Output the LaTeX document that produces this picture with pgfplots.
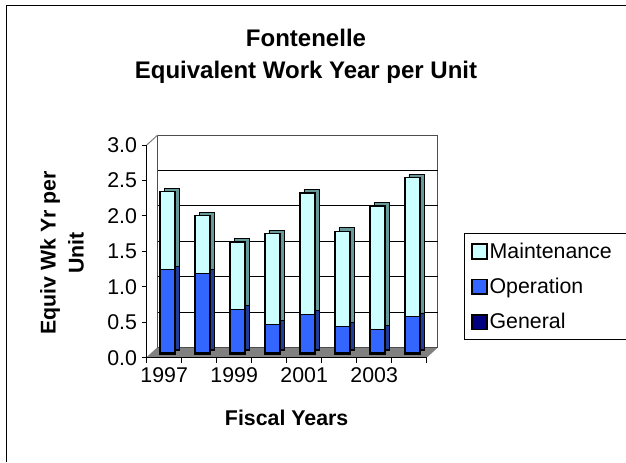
\documentclass[border=0pt]{standalone}
\usepackage{fontspec}
\setmainfont{Liberation Sans}
\usepackage{pgfplots}
\usepackage{pgfplotstable}
\pgfplotsset{compat=1.18}

\definecolor{maint}{HTML}{CCFFFF}
\definecolor{oper}{HTML}{3366FF}
\definecolor{gen}{HTML}{000080}
\definecolor{maintdark}{HTML}{669999}
\definecolor{operdark}{HTML}{1F3D99}
\definecolor{gendark}{HTML}{00004D}
\definecolor{floorgray}{HTML}{808080}

% stacked values per fiscal year (bars at 0.5, 1.5, ...)
\pgfplotstableread{
x    gen   op    maint
0.5  0.02  1.17  1.10
1.5  0.02  1.12  0.81
2.5  0.02  0.61  0.95
3.5  0.02  0.40  1.28
4.5  0.02  0.54  1.71
5.5  0.02  0.37  1.34
6.5  0.02  0.33  1.74
7.5  0.02  0.51  1.96
}\datatable

\pgfplotsset{
  chartbox/.style={
    width=210pt, height=159.5pt, scale only axis,
    xmin=0, xmax=8, ymin=0, ymax=3,
    anchor=south west, clip=false,
  },
  sq/.style={legend image code/.code={%
    \draw[##1, draw=black, line width=1.2pt] (0pt,-5.6pt) rectangle (11.25pt,5.6pt);}},
}
\def\dx{8.25pt}
\def\dy{7.5pt}
\newcommand\txt{\fontsize{16}{19}\selectfont}

\begin{document}
\begin{tikzpicture}
\path[use as bounding box] (0,0) rectangle (469.5pt,346.5pt);
\draw[line width=0.75pt] (4.5pt,0) -- (4.5pt,342.75pt) -- (469.5pt,342.75pt);

\node[font=\fontsize{18}{22}\selectfont\bfseries] at (229.5pt,318pt) {Fontenelle};
\node[font=\fontsize{18}{22}\selectfont\bfseries] at (229.5pt,292.5pt) {Equivalent Work Year per Unit};

% walls, floor, axis lines
\begin{axis}[chartbox, at={(110pt,78.2pt)},
  axis on top, axis lines*=left,
  axis line style={black, line width=0.75pt},
  tick style={black, line width=0.75pt},
  tick align=outside, major tick length=3.75pt,
  xtick={0,1,...,8}, xticklabels={},
  extra x ticks={0.5,2.5,4.5,6.5},
  extra x tick labels={1997,1999,2001,2003},
  extra x tick style={major tick length=0pt, xticklabel style={yshift=-4pt}},
  ytick={0,0.5,...,3},
  tick label style={font=\txt},
  /pgf/number format/assume math mode=true,
  yticklabel style={/pgf/number format/.cd, fixed, fixed zerofill, precision=1},
  xlabel={Fiscal Years},
  xlabel style={font=\txt\bfseries, at={(axis description cs:0.5,-0.285)}, anchor=center},
  ylabel={Equiv Wk Yr per\\Unit},
  ylabel style={font=\fontsize{16}{21}\selectfont\bfseries, align=center,
    at={(axis description cs:-0.3025,0.492)}, anchor=center},
]
\fill[floorgray] (axis cs:0,0) -- (axis cs:8,0) -- ([shift={(\dx,\dy)}]axis cs:8,0)
  -- ([shift={(\dx,\dy)}]axis cs:0,0) -- cycle;
\draw[floorgray!60!black, line width=0.75pt] ([shift={(\dx,\dy)}]axis cs:0,0)
  rectangle ([shift={(\dx,\dy)}]axis cs:8,3);
\pgfplotsinvokeforeach{0.5,1,1.5,2,2.5}{
  \draw[black, line width=0.75pt] ([shift={(\dx,\dy)}]axis cs:0,#1) -- ([shift={(\dx,\dy)}]axis cs:8,#1);
}
\draw[floorgray, line width=0.75pt] (axis cs:0,3) -- ([shift={(\dx,\dy)}]axis cs:0,3);
\draw[floorgray, line width=0.75pt] (axis cs:0,0) -- ([shift={(\dx,\dy)}]axis cs:0,0);
\end{axis}

% bar depth (side and top faces)
\begin{axis}[chartbox, at={(115.5pt,83.6pt)}, hide axis, ybar stacked, bar width=11.25pt]
\addplot[fill=gendark, draw=black, line width=0.6pt] table[x=x, y=gen] {\datatable};
\addplot[fill=operdark, draw=black, line width=0.6pt] table[x=x, y=op] {\datatable};
\addplot[fill=maintdark, draw=black, line width=0.6pt] table[x=x, y=maint] {\datatable};
\end{axis}

% bar fronts and legend
\begin{axis}[chartbox, at={(112.5pt,81pt)}, hide axis, ybar stacked, bar width=11.25pt,
  reverse legend,
  legend style={at={(axis description cs:1.121,0.567)}, anchor=north west,
    draw=black, line width=0.75pt, font=\txt, row sep=10.5pt,
    inner xsep=5pt, inner ysep=5pt, nodes={inner sep=1.5pt},
    cells={anchor=west}},
]
\addplot[fill=gen, draw=black, line width=1pt, sq] table[x=x, y=gen] {\datatable};
\addlegendentry{General}
\addplot[fill=oper, draw=black, line width=1pt, sq] table[x=x, y=op] {\datatable};
\addlegendentry{Operation}
\addplot[fill=maint, draw=black, line width=1pt, sq] table[x=x, y=maint] {\datatable};
\addlegendentry{Maintenance\hspace*{5pt}}
\end{axis}
\end{tikzpicture}
\end{document}
